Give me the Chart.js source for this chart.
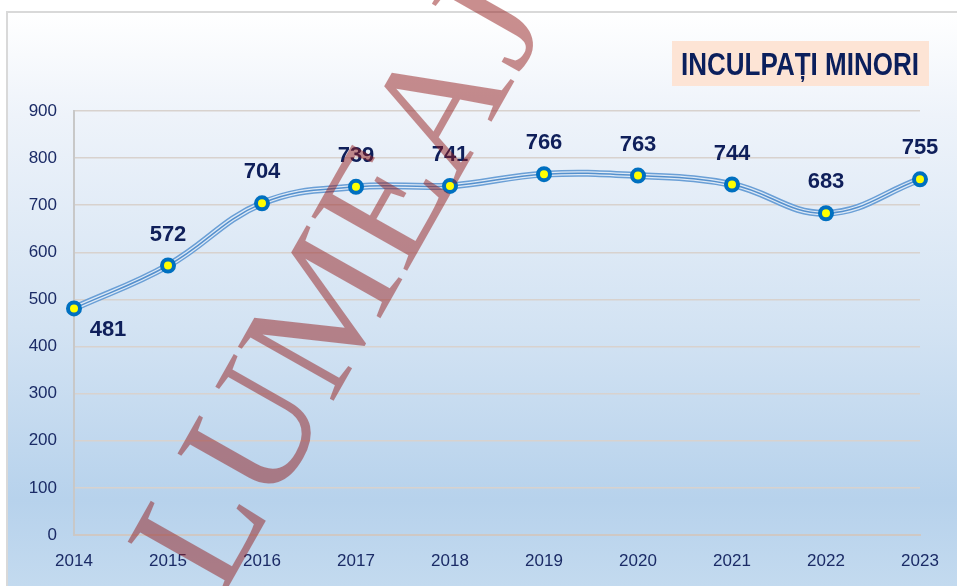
<!DOCTYPE html>
<html>
<head>
<meta charset="utf-8">
<script src="https://cdn.jsdelivr.net/npm/chart.js@4.4.1/dist/chart.umd.min.js"></script>
<style>
  html, body { margin: 0; padding: 0; background: #ffffff; }
  #wrap { width: 957px; height: 586px; position: relative; }
</style>
</head>
<body>
<div id="wrap"><canvas id="c" width="957" height="586"></canvas></div>
<script>
const years = ['2014','2015','2016','2017','2018','2019','2020','2021','2022','2023'];
const values = [481, 572, 704, 739, 741, 766, 763, 744, 683, 755];
const yTicks = [0, 100, 200, 300, 400, 500, 600, 700, 800, 900];
const titleText = 'INCULPAȚI MINORI';
const watermarkWords = ['LUMEA', 'JUSTIȚIEI'];

const bgPlugin = {
  id: 'bg',
  beforeDraw(chart) {
    const ctx = chart.ctx;
    const W = chart.width, H = chart.height;
    ctx.save();
    ctx.fillStyle = '#ffffff';
    ctx.fillRect(0, 0, W, H);
    const g = ctx.createLinearGradient(0, 12, 0, H);
    g.addColorStop(0, '#ffffff');
    g.addColorStop(0.18, '#eef3fa');
    g.addColorStop(0.55, '#d3e3f3');
    g.addColorStop(0.85, '#b7d2ec');
    g.addColorStop(1, '#c3daef');
    ctx.fillStyle = g;
    ctx.fillRect(7, 12, W - 7, H - 12);
    ctx.strokeStyle = '#d9d9d9';
    ctx.lineWidth = 2;
    ctx.beginPath();
    ctx.moveTo(7, H);
    ctx.lineTo(7, 12);
    ctx.lineTo(W, 12);
    ctx.stroke();
    ctx.restore();
  }
};

const labelPlugin = {
  id: 'labels',
  afterDatasetsDraw(chart) {
    const ctx = chart.ctx;
    const meta = chart.getDatasetMeta(2);
    ctx.save();
    ctx.font = 'bold 22px "Liberation Sans", Arial, sans-serif';
    ctx.fillStyle = '#0f1f5a';
    ctx.textAlign = 'center';
    ctx.textBaseline = 'middle';
    meta.data.forEach((pt, i) => {
      let x = pt.x, y = pt.y - 31;
      if (i === 0) { x = pt.x + 34; y = pt.y + 22; }
      ctx.fillText(String(values[i]), x, y);
    });
    // title box
    ctx.fillStyle = '#fde4d5';
    ctx.fillRect(672, 41, 257, 45);
    ctx.font = 'bold 31px "Liberation Sans Narrow", "Liberation Sans", Arial, sans-serif';
    const w = ctx.measureText(titleText).width;
    const target = 238;
    ctx.translate(681, 65);
    ctx.scale(target / w, 1);
    ctx.textAlign = 'left';
    ctx.fillStyle = '#0b1f5c';
    ctx.fillText(titleText, 0, 1);
    ctx.restore();
  },
  afterDraw(chart) {
    const ctx = chart.ctx;
    ctx.save();
    ctx.translate(221, 600);
    ctx.rotate(-60.5 * Math.PI / 180);
    ctx.font = '168px "Liberation Serif", "Times New Roman", serif';
    ctx.fillStyle = 'rgba(148, 30, 30, 0.5)';
    ctx.textAlign = 'left';
    ctx.textBaseline = 'alphabetic';
    ctx.fillText(watermarkWords[0], 0, 0);
    const w0 = ctx.measureText(watermarkWords[0]).width;
    ctx.fillText(watermarkWords[1], w0 + 6, 0);
    ctx.restore();
  }
};

const common = {
  data: values,
  tension: 0.4,
  fill: false,
  pointRadius: 0,
  pointHoverRadius: 0
};

new Chart(document.getElementById('c'), {
  type: 'line',
  data: {
    labels: years,
    datasets: [
      Object.assign({}, common, { borderColor: '#6a9fd6', borderWidth: 7, order: 3 }),
      Object.assign({}, common, { borderColor: '#dde9f6', borderWidth: 4, order: 2 }),
      Object.assign({}, common, {
        borderColor: '#5590cd', borderWidth: 1.5, order: 1,
        pointRadius: 6, pointBorderWidth: 4,
        pointBackgroundColor: '#ffff00', pointBorderColor: '#0070c0'
      })
    ]
  },
  options: {
    responsive: false,
    animation: false,
    events: [],
    layout: { padding: { left: 0, top: 111, right: 37, bottom: 0 } },
    plugins: { legend: { display: false }, tooltip: { enabled: false } },
    scales: {
      x: {
        offset: false,
        grid: { display: true, color: 'rgba(0,0,0,0)', drawTicks: false },
        border: { display: true, color: '#cfc8c4', width: 2 },
        ticks: {
          color: '#1b2b66',
          font: { family: '"Liberation Sans", Arial, sans-serif', size: 17 },
          padding: 16,
          maxRotation: 0,
          autoSkip: false
        },
        afterFit(scale) { scale.height = 51; }
      },
      y: {
        min: 0,
        max: 900,
        afterBuildTicks(scale) { scale.ticks = yTicks.map(v => ({ value: v })); },
        grid: { color: '#d8d2ce', lineWidth: 1.5, drawTicks: false },
        border: { display: true, color: '#c8c8c8', width: 2 },
        ticks: {
          color: '#1b2b66',
          font: { family: '"Liberation Sans", Arial, sans-serif', size: 17 },
          padding: 17
        },
        afterFit(scale) { scale.width = 74; }
      }
    }
  },
  plugins: [bgPlugin, labelPlugin]
});
</script>
</body>
</html>
